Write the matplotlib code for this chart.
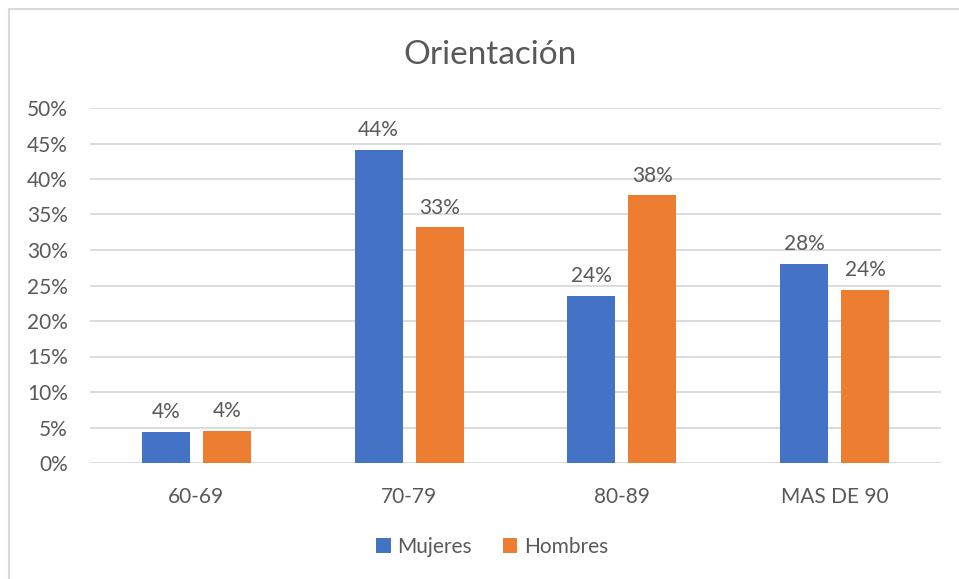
import matplotlib.pyplot as plt
import numpy as np
from matplotlib.lines import Line2D

categories = ['60-69', '70-79', '80-89', 'MAS DE 90']
mujeres = [4.4, 44.1, 23.5, 28.0]
hombres = [4.5, 33.2, 37.7, 24.4]
series_names = ['Mujeres', 'Hombres']

plt.rcParams.update({
    'font.family': ['Lato', 'DejaVu Sans'],
    'font.size': 15,
    'text.color': '#595959',
})

W, H = 959, 579
fig = plt.figure(figsize=(W / 100, H / 100), dpi=100)
ax = fig.add_axes([90 / W, 1 - 463 / H, 851 / W, 355 / H])

x = np.arange(len(categories))
bar_w = 0.226
shift = 0.143
colors = ['#4472C4', '#ED7D31']
for vals, off, col, name in zip([mujeres, hombres], [-shift, shift], colors, series_names):
    p = ax.bar(x + off, vals, bar_w, color=col, label=name, zorder=3)
    ax.bar_label(p, labels=[f"{v:.0f}%" for v in vals], padding=7,
                 fontsize=15, color='#595959')

ax.set_xlim(-0.5, len(categories) - 0.5)
ax.set_ylim(0, 50)
ax.set_yticks(np.arange(0, 51, 5))
ax.set_yticklabels([f"{v}%" for v in range(0, 51, 5)])
ax.set_xticks(x, labels=categories)
ax.grid(axis='y', color='#D9D9D9', linewidth=1.3, zorder=0)
for s in ax.spines.values():
    s.set_visible(False)
ax.tick_params(axis='both', length=0, labelsize=15, labelcolor='#595959')
ax.tick_params(axis='y', pad=16)
ax.tick_params(axis='x', pad=17)

fig.text(490 / W, 1 - 55 / H, 'Orientación', ha='center', va='center',
         fontsize=24, color='#595959')

leg = fig.legend(loc='center', bbox_to_anchor=(492 / W, 1 - 547 / H), ncols=2,
                 frameon=False, fontsize=15, handlelength=0.7, handleheight=0.7,
                 handletextpad=0.3, columnspacing=1.5)

# outer chart border (left and top edges visible)
fig.add_artist(Line2D([9 / W, 9 / W], [0, 1 - 9 / H], transform=fig.transFigure,
                      color='#D9D9D9', linewidth=1.5))
fig.add_artist(Line2D([9 / W, 1], [1 - 9 / H, 1 - 9 / H], transform=fig.transFigure,
                      color='#D9D9D9', linewidth=1.5))

fig.savefig('out.png', dpi=100)
